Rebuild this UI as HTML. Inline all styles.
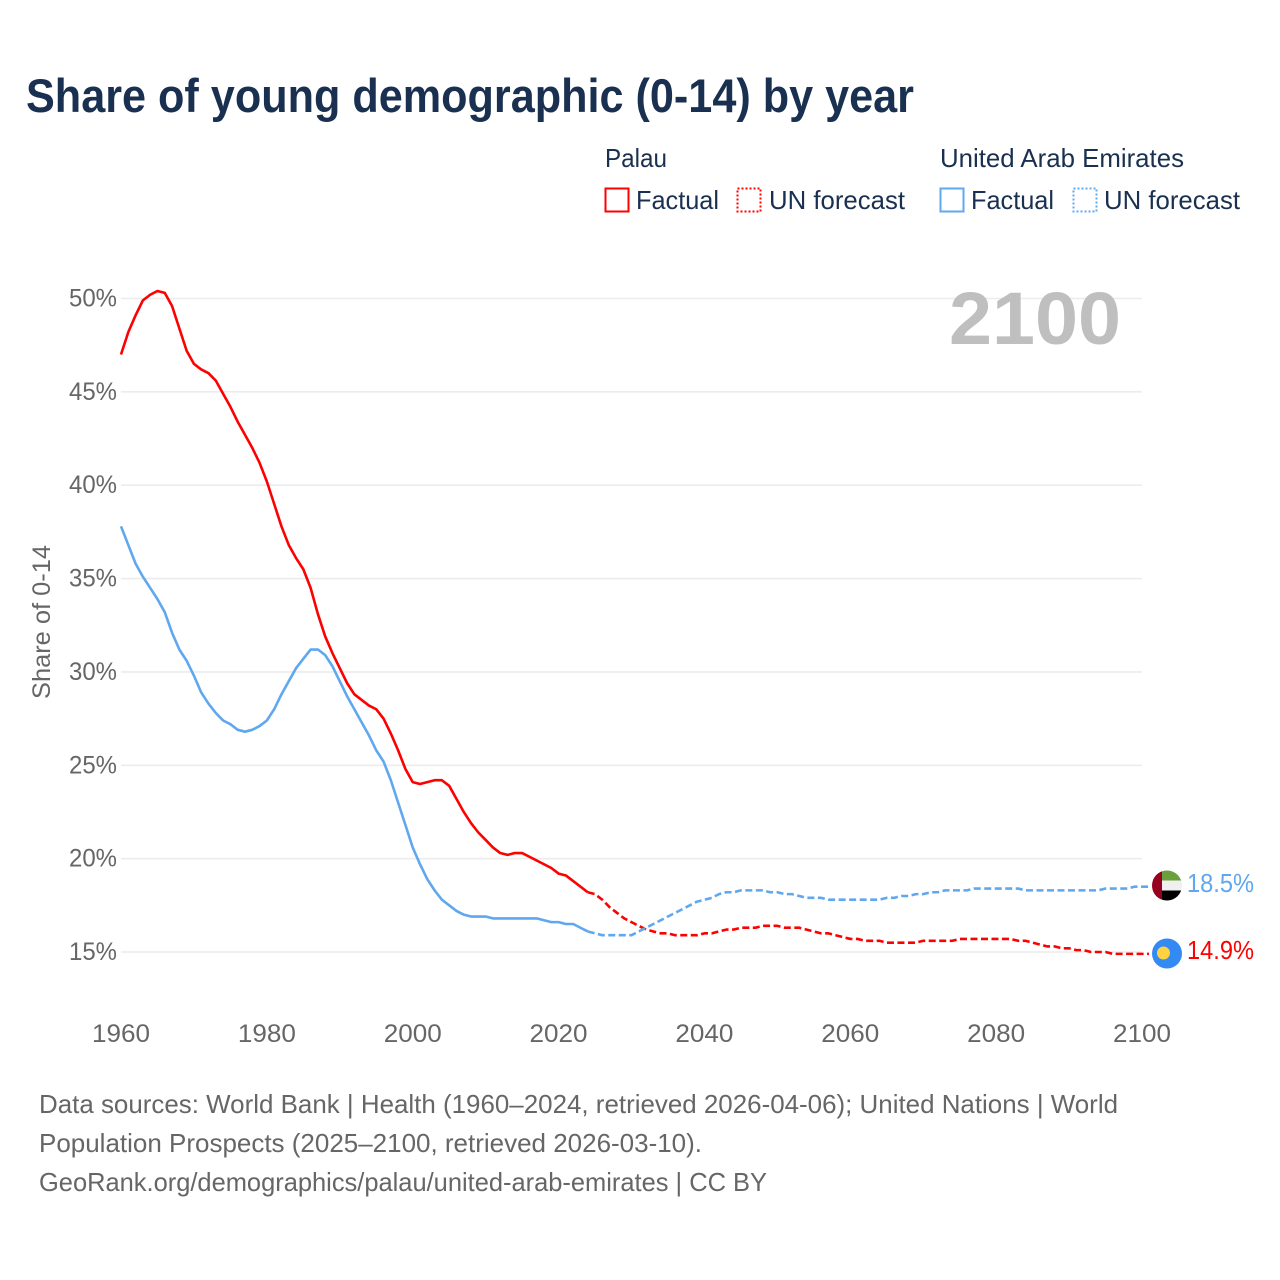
<!DOCTYPE html>
<html lang="en">
<head>
<meta charset="utf-8">
<title>Share of young demographic (0-14) by year</title>
<style>
  html, body { margin: 0; padding: 0; background: #fff; }
  svg { display: block; font-family: "Liberation Sans", sans-serif; }
  .leg { font-size: 26px; fill: #1a3050; }
  .foot { font-size: 26px; fill: #666; }
  .tick { font-size: 25px; fill: #666; }
</style>
</head>
<body>
<svg id="chart" width="1280" height="1280" viewBox="0 0 1280 1280" xmlns="http://www.w3.org/2000/svg">
  <rect width="1280" height="1280" fill="#fff"/>
  <text x="26" y="112" font-size="47" font-weight="700" fill="#1a3050" textLength="888" lengthAdjust="spacingAndGlyphs">Share of young demographic (0-14) by year</text>

  <text class="leg" x="605" y="167" textLength="62" lengthAdjust="spacingAndGlyphs">Palau</text>
  <text class="leg" x="940" y="167" textLength="244" lengthAdjust="spacingAndGlyphs">United Arab Emirates</text>

  <g>
    <rect x="606" y="189" width="23" height="23" fill="none" stroke="#ff0000" stroke-width="2" shape-rendering="crispEdges" transform="translate(-0.5 -0.5)"/>
    <text class="leg" x="636" y="209" textLength="83" lengthAdjust="spacingAndGlyphs">Factual</text>
  </g>
  <g>
    <rect x="738" y="189" width="23" height="23" fill="none" stroke="#ff0000" stroke-width="2" stroke-dasharray="2 2" shape-rendering="crispEdges" transform="translate(-0.5 -0.5)"/>
    <text class="leg" x="769" y="209" textLength="136" lengthAdjust="spacingAndGlyphs">UN forecast</text>
  </g>
  <g>
    <rect x="941" y="189" width="23" height="23" fill="none" stroke="#5fa8ef" stroke-width="2" shape-rendering="crispEdges" transform="translate(-0.5 -0.5)"/>
    <text class="leg" x="971" y="209" textLength="83" lengthAdjust="spacingAndGlyphs">Factual</text>
  </g>
  <g>
    <rect x="1074" y="189" width="23" height="23" fill="none" stroke="#5fa8ef" stroke-width="2" stroke-dasharray="2 2" shape-rendering="crispEdges" transform="translate(-0.5 -0.5)"/>
    <text class="leg" x="1104" y="209" textLength="136" lengthAdjust="spacingAndGlyphs">UN forecast</text>
  </g>

  <g id="grid"></g>
  <g id="yticks"></g>
  <g id="xticks"></g>

  <text x="1121" y="344" text-anchor="end" font-size="74" font-weight="700" fill="#bfbfbf" textLength="172" lengthAdjust="spacingAndGlyphs">2100</text>

  <text transform="translate(50 622) rotate(-90)" text-anchor="middle" font-size="25" fill="#666" textLength="154" lengthAdjust="spacingAndGlyphs">Share of 0-14</text>

  <g id="series"></g>

  <g>
    <clipPath id="uae-clip"><circle cx="1167" cy="885.5" r="15"/></clipPath>
    <g clip-path="url(#uae-clip)">
      <rect x="1152" y="870" width="30" height="10.5" fill="#6a9f3c"/>
      <rect x="1152" y="880.5" width="30" height="10" fill="#f0f0f0"/>
      <rect x="1152" y="890.5" width="30" height="11" fill="#000"/>
      <rect x="1152" y="870" width="10" height="32" fill="#970020"/>
    </g>
  </g>
  <g>
    <circle cx="1167" cy="953.5" r="15" fill="#338af3"/>
    <circle cx="1163.5" cy="953" r="6.5" fill="#ffd23f"/>
  </g>

  <text x="1187" y="892" font-size="26" fill="#5fa8ef" textLength="67" lengthAdjust="spacingAndGlyphs">18.5%</text>
  <text x="1187" y="959" font-size="26" fill="#ff0000" textLength="67" lengthAdjust="spacingAndGlyphs">14.9%</text>

  <text class="foot" x="39" y="1113" textLength="1079" lengthAdjust="spacingAndGlyphs">Data sources: World Bank | Health (1960–2024, retrieved 2026-04-06); United Nations | World</text>
  <text class="foot" x="39" y="1152" textLength="663" lengthAdjust="spacingAndGlyphs">Population Prospects (2025–2100, retrieved 2026-03-10).</text>
  <text class="foot" x="39" y="1191" textLength="728" lengthAdjust="spacingAndGlyphs">GeoRank.org/demographics/palau/united-arab-emirates | CC BY</text>
</svg>

<script>
const factualStartYear = 1960;
const forecastStartYear = 2024;
const xTickYears = [1960, 1980, 2000, 2020, 2040, 2060, 2080, 2100];
const yTickValues = [15, 20, 25, 30, 35, 40, 45, 50];

// Palau, 1960-2024
const palauFactual = [
  47.0, 48.2, 49.1, 49.9, 50.2, 50.4, 50.3, 49.6, 48.4, 47.2,
  46.5, 46.2, 46.0, 45.6, 44.9, 44.2, 43.4, 42.7, 42.0, 41.2,
  40.2, 39.0, 37.8, 36.8, 36.1, 35.5, 34.5, 33.1, 31.9, 31.0,
  30.2, 29.4, 28.8, 28.5, 28.2, 28.0, 27.5, 26.7, 25.8, 24.8,
  24.1, 24.0, 24.1, 24.2, 24.2, 23.9, 23.2, 22.5, 21.9, 21.4,
  21.0, 20.6, 20.3, 20.2, 20.3, 20.3, 20.1, 19.9, 19.7, 19.5,
  19.2, 19.1, 18.8, 18.5, 18.2
];
// Palau, 2024-2100
const palauForecast = [
  18.2, 18.1, 17.8, 17.4, 17.1, 16.8, 16.6, 16.4, 16.2, 16.1, 16.0,
  16.0, 15.9, 15.9, 15.9, 15.9, 16.0, 16.0, 16.1, 16.2, 16.2,
  16.3, 16.3, 16.3, 16.4, 16.4, 16.4, 16.3, 16.3, 16.3, 16.2,
  16.1, 16.0, 16.0, 15.9, 15.8, 15.7, 15.7, 15.6, 15.6, 15.6,
  15.5, 15.5, 15.5, 15.5, 15.5, 15.6, 15.6, 15.6, 15.6, 15.6,
  15.7, 15.7, 15.7, 15.7, 15.7, 15.7, 15.7, 15.7, 15.6, 15.6,
  15.5, 15.4, 15.3, 15.3, 15.2, 15.2, 15.1, 15.1, 15.0, 15.0,
  15.0, 14.9, 14.9, 14.9, 14.9, 14.9
];
// United Arab Emirates, 1960-2024
const uaeFactual = [
  37.8, 36.8, 35.8, 35.1, 34.5, 33.9, 33.2, 32.1, 31.2, 30.6,
  29.8, 28.9, 28.3, 27.8, 27.4, 27.2, 26.9, 26.8, 26.9, 27.1,
  27.4, 28.0, 28.8, 29.5, 30.2, 30.7, 31.2, 31.2, 30.9, 30.3,
  29.5, 28.7, 28.0, 27.3, 26.6, 25.8, 25.2, 24.2, 23.0, 21.8,
  20.6, 19.7, 18.9, 18.3, 17.8, 17.5, 17.2, 17.0, 16.9, 16.9,
  16.9, 16.8, 16.8, 16.8, 16.8, 16.8, 16.8, 16.8, 16.7, 16.6,
  16.6, 16.5, 16.5, 16.3, 16.1
];
// United Arab Emirates, 2024-2100
const uaeForecast = [
  16.1, 16.0, 15.9, 15.9, 15.9, 15.9, 15.9, 16.1, 16.3, 16.5, 16.7,
  16.9, 17.1, 17.3, 17.5, 17.7, 17.8, 17.9, 18.1, 18.2, 18.2,
  18.3, 18.3, 18.3, 18.3, 18.2, 18.2, 18.1, 18.1, 18.0, 17.9,
  17.9, 17.9, 17.8, 17.8, 17.8, 17.8, 17.8, 17.8, 17.8, 17.8,
  17.9, 17.9, 18.0, 18.0, 18.1, 18.1, 18.2, 18.2, 18.3, 18.3,
  18.3, 18.3, 18.4, 18.4, 18.4, 18.4, 18.4, 18.4, 18.4, 18.3,
  18.3, 18.3, 18.3, 18.3, 18.3, 18.3, 18.3, 18.3, 18.3, 18.3,
  18.4, 18.4, 18.4, 18.4, 18.5, 18.5
];

const NS = 'http://www.w3.org/2000/svg';
function xScale(year) { return 121 + (year - 1960) * (1142 - 121) / 140; }
function yScale(pct) { return 952 - (pct - 15) * (952 - 298.5) / 35; }

const gridLayer = document.getElementById('grid');
const yTickLayer = document.getElementById('yticks');
const xTickLayer = document.getElementById('xticks');
const seriesLayer = document.getElementById('series');

yTickValues.forEach(function (v) {
  const line = document.createElementNS(NS, 'line');
  line.setAttribute('x1', xScale(1960));
  line.setAttribute('x2', xScale(2100));
  line.setAttribute('y1', yScale(v));
  line.setAttribute('y2', yScale(v));
  line.setAttribute('stroke', '#ececec');
  line.setAttribute('stroke-width', '1.6');
  
  
  gridLayer.appendChild(line);

  const label = document.createElementNS(NS, 'text');
  label.setAttribute('class', 'tick');
  label.setAttribute('x', 117);
  label.setAttribute('y', yScale(v) + 8);
  label.setAttribute('text-anchor', 'end');
  label.setAttribute('textLength', 48);
  label.setAttribute('lengthAdjust', 'spacingAndGlyphs');
  label.textContent = v + '%';
  
  
  yTickLayer.appendChild(label);
});

xTickYears.forEach(function (yr) {
  const label = document.createElementNS(NS, 'text');
  label.setAttribute('class', 'tick');
  label.setAttribute('x', xScale(yr));
  label.setAttribute('y', 1042);
  label.setAttribute('text-anchor', 'middle');
  label.setAttribute('textLength', 58);
  label.setAttribute('lengthAdjust', 'spacingAndGlyphs');
  label.textContent = yr;
  
  
  xTickLayer.appendChild(label);
});

function linePath(values, startYear, tailPx) {
  let d = '';
  let lastY = 0;
  let lastX = 0;
  values.forEach(function (v, i) {
    lastX = xScale(startYear + i);
    lastY = yScale(v);
    d += (i === 0 ? 'M' : 'L') + lastX.toFixed(2) + ' ' + lastY.toFixed(2);
  });
  if (tailPx) { d += 'L' + (lastX + tailPx).toFixed(2) + ' ' + lastY.toFixed(2); }
  return d;
}

function drawLine(values, startYear, color, dashed, name) {
  const path = document.createElementNS(NS, 'path');
  path.setAttribute('d', linePath(values, startYear, dashed ? 7 : 0));
  path.setAttribute('fill', 'none');
  path.setAttribute('stroke', color);
  path.setAttribute('stroke-width', '2.6');
  path.setAttribute('stroke-linejoin', 'round');
  if (dashed) { path.setAttribute('stroke-dasharray', '7 3.5'); }
  
  
  seriesLayer.appendChild(path);
}

drawLine(uaeFactual, factualStartYear, '#5fa8ef', false, 'line-uae-factual');
drawLine(palauFactual, factualStartYear, '#ff0000', false, 'line-palau-factual');
drawLine(palauForecast, forecastStartYear, '#ff0000', true, 'line-palau-forecast');
drawLine(uaeForecast, forecastStartYear, '#5fa8ef', true, 'line-uae-forecast');
</script>
</body>
</html>
